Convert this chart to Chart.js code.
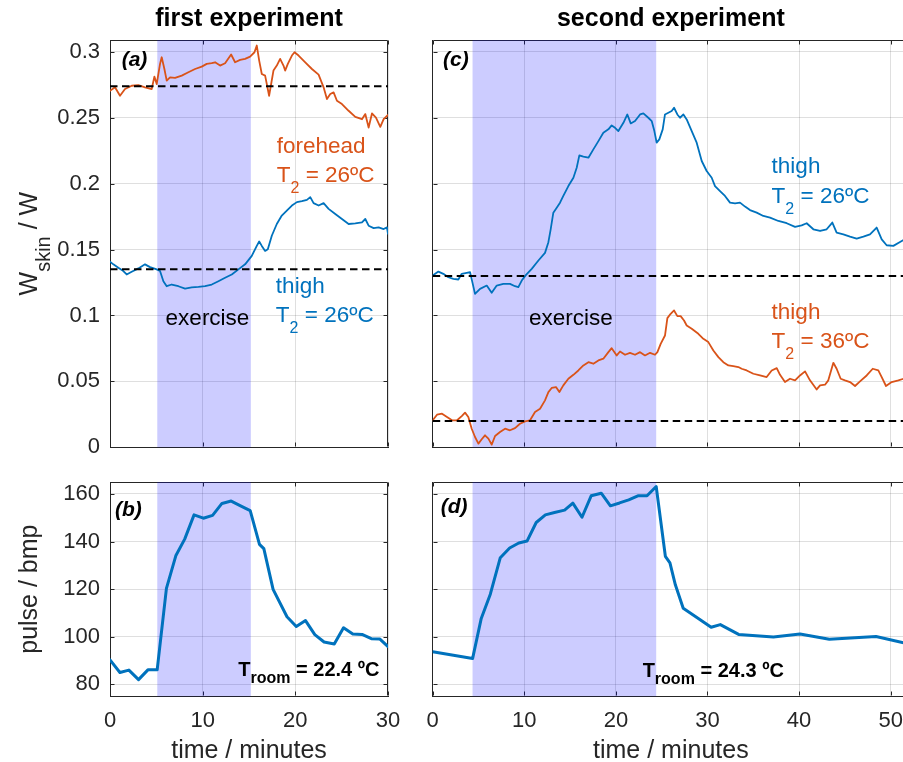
<!DOCTYPE html>
<html>
<head>
<meta charset="utf-8">
<title>Skin wetness and pulse during exercise</title>
<script src="https://cdn.jsdelivr.net/npm/chart.js@4.4.1/dist/chart.umd.min.js"></script>
<style>
  html, body { margin: 0; padding: 0; width: 903px; height: 762px; overflow: hidden; background: #fff; }
  .panel { position: absolute; }
  .panel canvas { display: block; }
</style>
</head>
<body>
<div class="panel" style="left:0;top:0;width:420px;height:480px"><canvas id="chartA" width="420" height="480"></canvas></div>
<div class="panel" style="left:380px;top:0;width:560px;height:480px"><canvas id="chartC" width="560" height="480"></canvas></div>
<div class="panel" style="left:0;top:440px;width:420px;height:322px"><canvas id="chartB" width="420" height="322"></canvas></div>
<div class="panel" style="left:380px;top:440px;width:560px;height:322px"><canvas id="chartD" width="560" height="322"></canvas></div>
<script>
// ---- measured series: [time in minutes, value] ----
const foreheadFirst = [
  [0,.2705],[0.54,.2731],[1.08,.2667],[1.62,.2718],[2.34,.2743],[3.06,.2748],[3.78,.2731],[4.5,.2718],
  [4.79,.2812],[5.04,.2756],[5.4,.2909],[5.58,.2959],[5.87,.287],[6.12,.2782],[6.48,.2807],[7.02,.2802],
  [7.74,.282],[8.46,.2845],[9.18,.287],[9.9,.2888],[10.44,.2909],[10.98,.2914],[11.34,.2921],[11.88,.2896],
  [12.42,.2914],[13.07,.298],[13.5,.2921],[14.04,.2939],[14.58,.2947],[15.12,.2964],[15.59,.2997],[15.84,.3048],
  [16.1,.2934],[16.38,.2832],[16.74,.282],[17.17,.2667],[17.39,.2756],[17.64,.2858],[18,.2896],[18.36,.2947],
  [18.72,.2896],[18.9,.2858],[19.19,.2909],[19.63,.2972],[19.91,.2997],[20.35,.2972],[21.07,.2921],[21.79,.287],
  [22.51,.2827],[23.05,.2731],[23.41,.2642],[23.77,.268],[24.13,.2693],[24.49,.2629],[25.03,.2604],[25.75,.2553],
  [26.47,.2507],[27.19,.2489],[27.55,.2528],[27.91,.2426],[28.27,.2533],[28.7,.2502],[29.17,.2431],[29.53,.2489],[30,.2522]
];
const thighFirst = [
  [0,.1408],[0.36,.1388],[0.9,.1362],[1.44,.1337],[1.8,.1311],[2.34,.1332],[3.06,.1357],[3.78,.1388],
  [4.32,.1367],[5.04,.135],[5.4,.1337],[5.76,.126],[6.12,.1222],[6.66,.1235],[7.38,.1222],[8.1,.1204],
  [8.82,.1214],[9.54,.1217],[10.26,.1222],[10.98,.1235],[11.7,.126],[12.42,.1286],[13.14,.1311],[13.86,.135],
  [14.58,.1388],[15.3,.1452],[15.84,.1528],[16.1,.1561],[16.38,.1528],[16.74,.149],[17.03,.1503],[17.46,.1605],
  [18,.1694],[18.54,.1758],[19.08,.1796],[19.63,.1834],[20.17,.186],[20.71,.1867],[21.25,.1877],[21.61,.1898],
  [21.97,.1852],[22.51,.1834],[23.05,.1852],[23.59,.1809],[24.31,.177],[25.03,.1732],[25.75,.1694],[26.47,.1699],
  [27.19,.1707],[27.55,.1732],[27.91,.1681],[28.45,.1663],[28.99,.1668],[29.53,.1656],[29.89,.1668],[30,.162]
];
const thighSecondCool = [
  [0,.1303],[0.62,.1333],[1.16,.1316],[1.71,.129],[2.26,.1278],[2.8,.1273],[3.17,.1316],[3.71,.1323],
  [4.08,.1328],[4.33,.1253],[4.62,.1164],[5.17,.1202],[5.9,.1227],[6.44,.1172],[6.99,.1227],[7.71,.124],
  [8.44,.124],[8.99,.1222],[9.35,.1215],[9.72,.1265],[10.19,.1308],[10.81,.1354],[11.54,.1417],[12.26,.1475],
  [12.63,.1556],[12.88,.1654],[13.17,.178],[13.54,.1818],[13.9,.1856],[14.26,.1907],[14.81,.1982],[15.36,.2045],
  [15.72,.2121],[16.01,.2215],[16.45,.2205],[17,.2197],[17.54,.226],[18.09,.2323],[18.63,.2386],[19.18,.2412],
  [19.54,.2442],[19.91,.2424],[20.27,.2399],[20.82,.2462],[21.25,.2525],[21.62,.2457],[22.09,.2475],[22.64,.2525],
  [23,.2533],[23.54,.25],[23.91,.2475],[24.2,.2399],[24.45,.2311],[24.74,.2336],[25.11,.2412],[25.36,.2525],
  [25.73,.2538],[26.09,.2551],[26.35,.2576],[26.71,.2525],[27,.25],[27.37,.2525],[27.73,.2487],[28.28,.2399],
  [28.82,.2311],[29.37,.2172],[29.91,.2096],[30.46,.2045],[30.82,.1982],[31.37,.1944],[31.91,.1907],[32.46,.1856],
  [33.01,.1851],[33.55,.1856],[34.1,.1826],[34.64,.18],[35.37,.178],[36.1,.1755],[36.83,.1742],[37.74,.1717],
  [38.65,.17],[39.56,.1672],[40.28,.1684],[40.83,.17],[41.56,.1654],[42.29,.1641],[43.01,.1654],[43.63,.1705],
  [44.1,.1629],[44.83,.1616],[45.56,.1598],[46.29,.1583],[47.02,.1598],[47.74,.1616],[48.47,.1667],[49.02,.1578],
  [49.56,.1533],[50.29,.1528],[51.02,.1558],[51.4,.1573]
];
const thighSecondWarm = [
  [0,.0205],[0.47,.0247],[1.02,.0255],[1.56,.023],[2.11,.0205],[2.66,.0205],[3.17,.0237],[3.53,.0263],
  [3.89,.023],[4.26,.0141],[4.62,.0078],[4.99,.0028],[5.35,.0061],[5.71,.0091],[6.08,.0066],[6.44,.002],
  [6.81,.0086],[7.35,.0116],[7.9,.0141],[8.44,.0129],[8.99,.0146],[9.53,.0179],[10.08,.0197],[10.63,.0205],
  [11.17,.0268],[11.72,.0293],[12.26,.0356],[12.63,.0419],[12.99,.045],[13.46,.0457],[13.83,.0419],[14.26,.047],
  [14.81,.052],[15.36,.055],[15.9,.0583],[16.45,.0621],[17,.0646],[17.54,.0634],[18.09,.0659],[18.63,.0672],
  [19.18,.0722],[19.54,.0752],[20.09,.0697],[20.45,.0727],[21,.0702],[21.54,.0717],[22.09,.0702],[22.64,.0722],
  [23.18,.0697],[23.73,.0717],[24.27,.0702],[24.53,.0722],[24.89,.0785],[25.36,.0848],[25.62,.098],[25.98,.1013],
  [26.35,.1038],[26.71,.0995],[27.07,.0995],[27.44,.0962],[27.73,.0924],[28.28,.0899],[29,.0861],[29.55,.0823],
  [30.09,.0798],[30.64,.0735],[31.19,.0684],[31.73,.0646],[32.28,.0621],[32.82,.0616],[33.37,.0609],[33.73,.0596],
  [34.28,.0583],[35.01,.0558],[35.74,.0545],[36.46,.0533],[37.01,.0583],[37.56,.0601],[37.92,.055],[38.46,.0495],
  [39.01,.052],[39.56,.0508],[40.1,.0545],[40.65,.0576],[41.19,.0508],[41.92,.0439],[42.29,.047],[42.83,.0475],
  [43.19,.0508],[43.74,.0641],[44.1,.0596],[44.54,.052],[45.01,.0508],[45.56,.0495],[46.11,.0465],[46.65,.05],
  [47.38,.0545],[48.04,.0596],[48.65,.0583],[49.02,.0533],[49.49,.0465],[50.11,.0495],[50.84,.0508],[51.4,.052]
];
const pulseFirst = [
  [0,90.3],[1.07,85],[2.04,86],[3.08,82],[4.09,86.1],[5.09,86.1],[6.09,120.3],[7.1,134],[8.06,141],
  [9.07,151.2],[10.07,149.8],[11.07,151],[12.08,156],[13.08,157],[14.09,155],[15.13,153],[16.13,138.8],
  [16.6,137],[17.6,119.9],[19.1,108.4],[20.1,104.3],[21.1,106.8],[22.1,100.9],[23.1,97.8],[24.2,97],
  [25.2,103.8],[26.2,101.2],[27.2,101],[28.2,99.2],[29.1,99.1],[30,95.9]
];
const pulseSecond = [
  [0,93.7],[4.36,90.9],[5.3,107.7],[6.29,117.9],[7.38,133.2],[8.4,137.3],[9.4,139.4],[10.3,140.2],
  [11.3,148],[12.3,151.2],[13.3,152.2],[14.4,153.2],[15.3,156.1],[16.3,150.2],[17.3,159.2],[18.4,160.3],
  [19.4,155],[20.4,156.2],[21.4,157.5],[22.4,159.2],[23.4,159.2],[24.4,163.1],[25.4,133.8],[25.9,131],
  [26.5,121.7],[27.35,112],[28.8,108.2],[30.4,104],[31.4,105.1],[33.4,101],[37.2,99.9],[40.1,101.2],
  [43.3,99],[48.4,100.1],[52,97.0]
];

// resting baselines (dashed) and exercise windows (minutes)
const baselinesFirst = [0.274, 0.135];
const baselinesSecond = [0.13, 0.02];
const exerciseFirst = [5.1, 15.2];
const exerciseSecond = [4.35, 24.4];

// axis ranges and ticks
const timeTicksFirst = [0, 10, 20, 30];
const timeLabelsFirst = ['0', '10', '20', '30'];
const timeTicksSecond = [0, 10, 20, 30, 40, 50];
const timeLabelsSecond = ['0', '10', '20', '30', '40', '50'];
const wetnessTicks = [0, 0.05, 0.1, 0.15, 0.2, 0.25, 0.3];
const wetnessLabels = ['0', '0.05', '0.1', '0.15', '0.2', '0.25', '0.3'];
const pulseTicks = [80, 100, 120, 140, 160];
const pulseLabels = ['80', '100', '120', '140', '160'];
const wetnessRange = [0, 0.309];
const pulseRange = [75, 165];
const timeRangeFirst = [0, 30];
const timeRangeSecond = [0, 52];

// ---- styling ----
const FONT = '"Liberation Sans", Arial, Helvetica, sans-serif';
const AXIS_INK = '#262626';
const GRID_INK = 'rgba(38,38,38,0.15)';
const SHADE = 'rgba(0,0,255,0.2)';
const ORANGE = '#D95319';
const BLUE = '#0072BD';

function t2(rest) {
  return [{text: 'T', size: 22.5}, {text: '2', size: 16, dy: 11}, {text: ' = ' + rest, size: 22.5}];
}
function troom(rest) {
  return [{text: 'T', size: 20, weight: 'bold'}, {text: 'room', size: 16, weight: 'bold', dy: 7.6},
          {text: ' = ' + rest, size: 20, weight: 'bold'}];
}
function tag(s) {
  return [{text: s, size: 21, weight: 'bold', style: 'italic'}];
}

function setFont(ctx, p) {
  ctx.font = `${p.style || 'normal'} ${p.weight || 'normal'} ${p.size}px ${FONT}`;
}
function richWidth(ctx, parts) {
  let w = 0;
  for (const p of parts) { setFont(ctx, p); w += ctx.measureText(p.text).width; }
  return w;
}
function drawRich(ctx, x, y, parts, color) {
  ctx.fillStyle = color;
  ctx.textBaseline = 'alphabetic';
  ctx.textAlign = 'left';
  let cx = x;
  for (const p of parts) {
    setFont(ctx, p);
    ctx.fillText(p.text, cx, y + (p.dy || 0));
    cx += ctx.measureText(p.text).width;
  }
}

function makePanel(id, p) {
  const decor = {
    id: 'decor_' + id,
    beforeDatasetsDraw(chart) {
      const {ctx, chartArea: a, scales: {x, y}} = chart;
      ctx.save();
      // box top/right edges and inward tick marks
      ctx.strokeStyle = AXIS_INK;
      ctx.lineWidth = 1;
      ctx.beginPath();
      const top = Math.round(a.top) + 0.5, right = Math.round(a.right) - 0.5;
      const bottom = Math.round(a.bottom) - 0.5, left = Math.round(a.left) + 0.5;
      ctx.moveTo(left, top); ctx.lineTo(right, top); ctx.lineTo(right, bottom);
      const tl = 4;
      for (const t of x.ticks) {
        const px = Math.round(x.getPixelForValue(t.value)) + 0.5;
        ctx.moveTo(px, bottom); ctx.lineTo(px, bottom - tl);
        ctx.moveTo(px, top); ctx.lineTo(px, top + tl);
      }
      for (const t of y.ticks) {
        const py = Math.round(y.getPixelForValue(t.value)) + 0.5;
        ctx.moveTo(left, py); ctx.lineTo(left + tl, py);
        ctx.moveTo(right, py); ctx.lineTo(right - tl, py);
      }
      ctx.stroke();
      // exercise window
      const x0 = x.getPixelForValue(p.exercise[0]);
      const x1 = x.getPixelForValue(p.exercise[1]);
      ctx.fillStyle = SHADE;
      ctx.fillRect(x0, a.top, x1 - x0, a.bottom - a.top);
      ctx.restore();
    },
    afterDatasetsDraw(chart) {
      const {ctx, chartArea: a, scales: {x, y}} = chart;
      ctx.save();
      for (const n of p.notes) {
        drawRich(ctx, x.getPixelForValue(n.x), y.getPixelForValue(n.y), n.parts, n.color);
      }
      if (p.yTitle) {
        ctx.save();
        ctx.translate(a.left - p.yTitle.offset, (a.top + a.bottom) / 2);
        ctx.rotate(-Math.PI / 2);
        const w = richWidth(ctx, p.yTitle.parts);
        drawRich(ctx, -w / 2, 0, p.yTitle.parts, AXIS_INK);
        ctx.restore();
      }
      if (p.xTitle) {
        const w = richWidth(ctx, p.xTitle.parts);
        drawRich(ctx, (a.left + a.right) / 2 - w / 2, a.bottom + p.xTitle.offset, p.xTitle.parts, AXIS_INK);
      }
      ctx.restore();
    }
  };

  const baseSets = p.baselines.map(b => ({
    data: [{x: p.xRange[0], y: b}, {x: p.xRange[1], y: b}],
    borderColor: '#000', borderWidth: 2, borderDash: [7.5, 4.5], pointRadius: 0, tension: 0
  }));
  const lineSets = p.series.map(s => ({
    data: s.points.map(([t, v]) => ({x: t, y: v})),
    borderColor: s.color, borderWidth: s.width, pointRadius: 0, tension: 0,
    borderJoinStyle: 'round', borderCapStyle: 'round'
  }));

  const tickFont = {family: FONT, size: 22};
  return new Chart(document.getElementById(id), {
    type: 'line',
    data: {datasets: [...baseSets, ...lineSets]},
    options: {
      responsive: false,
      animation: false,
      events: [],
      layout: {padding: p.pad},
      plugins: {
        legend: {display: false},
        tooltip: {enabled: false},
        title: p.title ? {
          display: true, text: p.title, fullSize: false, color: '#000',
          font: {family: FONT, size: 25, weight: 'bold'}, padding: {top: 4.6, bottom: 5.4}
        } : {display: false}
      },
      scales: {
        x: {
          type: 'linear', bounds: 'data', min: p.xRange[0], max: p.xRange[1],
          afterBuildTicks: s => { s.ticks = p.xTicks.map(v => ({value: v})); },
          afterFit: s => { s.height = p.xAxisHeight; },
          grid: {color: GRID_INK, drawTicks: false, tickLength: 0},
          border: {color: AXIS_INK, width: 1},
          ticks: {
            display: !!p.xLabels, padding: 11.2, font: tickFont, color: AXIS_INK,
            autoSkip: false, maxRotation: 0, minRotation: 0,
            callback: (v, i) => (p.xLabels ? p.xLabels[i] : '')
          }
        },
        y: {
          type: 'linear', bounds: 'data', min: p.yRange[0], max: p.yRange[1],
          afterBuildTicks: s => { s.ticks = p.yTicks.map(v => ({value: v})); },
          afterFit: s => { s.width = p.yAxisWidth; },
          grid: {color: GRID_INK, drawTicks: false, tickLength: 0},
          border: {color: AXIS_INK, width: 1},
          ticks: {
            display: !!p.yLabels, padding: 10, font: tickFont, color: AXIS_INK,
            callback: (v, i) => (p.yLabels ? p.yLabels[i] : '')
          }
        }
      }
    },
    plugins: [decor]
  });
}

// (a) first experiment, skin wetness
makePanel('chartA', {
  title: 'first experiment',
  pad: {left: 0, top: 0, right: 32, bottom: 32.7},
  yAxisWidth: 110, xAxisHeight: 0,
  xRange: timeRangeFirst, xTicks: timeTicksFirst, xLabels: null,
  yRange: wetnessRange, yTicks: wetnessTicks, yLabels: wetnessLabels,
  exercise: exerciseFirst,
  baselines: baselinesFirst,
  series: [
    {points: foreheadFirst, color: ORANGE, width: 1.8},
    {points: thighFirst, color: BLUE, width: 1.8}
  ],
  notes: [
    {x: 1.26, y: 0.289, color: '#000', parts: tag('(a)')},
    {x: 18.0, y: 0.223, color: ORANGE, parts: [{text: 'forehead', size: 22.5}]},
    {x: 18.0, y: 0.201, color: ORANGE, parts: t2('26ºC')},
    {x: 17.9, y: 0.1173, color: BLUE, parts: [{text: 'thigh', size: 22.5}]},
    {x: 17.9, y: 0.0953, color: BLUE, parts: t2('26ºC')},
    {x: 6.0, y: 0.0928, color: '#000', parts: [{text: 'exercise', size: 22.5}]}
  ],
  yTitle: {offset: 73.3, parts: [{text: 'W', size: 25}, {text: 'skin', size: 20, dy: 13.3}, {text: ' / W', size: 25}]}
});

// (c) second experiment, skin wetness
makePanel('chartC', {
  title: 'second experiment',
  pad: {left: 52.7, top: 0, right: 31, bottom: 32.7},
  yAxisWidth: 0, xAxisHeight: 0,
  xRange: timeRangeSecond, xTicks: timeTicksSecond, xLabels: null,
  yRange: wetnessRange, yTicks: wetnessTicks, yLabels: null,
  exercise: exerciseSecond,
  baselines: baselinesSecond,
  series: [
    {points: thighSecondCool, color: BLUE, width: 1.8},
    {points: thighSecondWarm, color: ORANGE, width: 1.8}
  ],
  notes: [
    {x: 1.12, y: 0.289, color: '#000', parts: tag('(c)')},
    {x: 37.0, y: 0.2078, color: BLUE, parts: [{text: 'thigh', size: 22.5}]},
    {x: 37.0, y: 0.1851, color: BLUE, parts: t2('26ºC')},
    {x: 37.0, y: 0.0971, color: ORANGE, parts: [{text: 'thigh', size: 22.5}]},
    {x: 37.0, y: 0.0751, color: ORANGE, parts: t2('36ºC')},
    {x: 10.5, y: 0.0928, color: '#000', parts: [{text: 'exercise', size: 22.5}]}
  ]
});

// (b) first experiment, pulse
makePanel('chartB', {
  pad: {left: 0, top: 42, right: 32, bottom: 25.7},
  yAxisWidth: 110, xAxisHeight: 40,
  xRange: timeRangeFirst, xTicks: timeTicksFirst, xLabels: timeLabelsFirst,
  yRange: pulseRange, yTicks: pulseTicks, yLabels: pulseLabels,
  exercise: exerciseFirst,
  baselines: [],
  series: [{points: pulseFirst, color: BLUE, width: 3}],
  notes: [
    {x: 0.54, y: 150.8, color: '#000', parts: tag('(b)')},
    {x: 13.84, y: 83.6, color: '#000', parts: troom('22.4 ºC')}
  ],
  yTitle: {offset: 73.5, parts: [{text: 'pulse / bmp', size: 25}]},
  xTitle: {offset: 61.2, parts: [{text: 'time / minutes', size: 25}]}
});

// (d) second experiment, pulse
makePanel('chartD', {
  pad: {left: 52.7, top: 42, right: 31, bottom: 25.7},
  yAxisWidth: 0, xAxisHeight: 40,
  xRange: timeRangeSecond, xTicks: timeTicksSecond, xLabels: timeLabelsSecond,
  yRange: pulseRange, yTicks: pulseTicks, yLabels: null,
  exercise: exerciseSecond,
  baselines: [],
  series: [{points: pulseSecond, color: BLUE, width: 3}],
  notes: [
    {x: 0.87, y: 152, color: '#000', parts: tag('(d)')},
    {x: 22.92, y: 83.2, color: '#000', parts: troom('24.3 ºC')}
  ],
  xTitle: {offset: 61.2, parts: [{text: 'time / minutes', size: 25}]}
});
</script>
</body>
</html>
